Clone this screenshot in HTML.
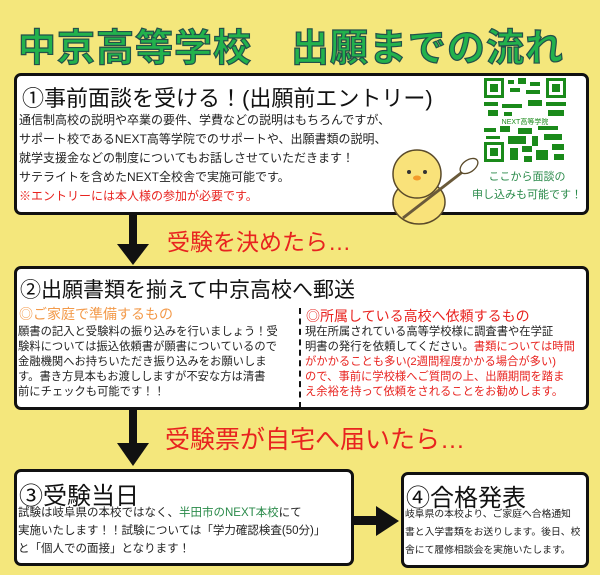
<!DOCTYPE html>
<html><head><meta charset="utf-8"><style>
*{margin:0;padding:0;box-sizing:border-box}
body{width:600px;height:575px;background:#f4e77c;position:relative;overflow:hidden;font-family:"Liberation Sans","Noto Sans CJK JP",sans-serif;color:#222}
.abs{position:absolute}
.box{position:absolute;background:#fff;border:3px solid #111;border-radius:7px}
.title{left:18px;top:17px;font-size:38px;font-weight:bold;color:#22b24c;-webkit-text-stroke:1.2px #23504a;letter-spacing:1px;white-space:nowrap}
.h{position:absolute;white-space:nowrap;color:#111}
.t{position:absolute;white-space:nowrap;font-size:12.5px;line-height:19px}
.r{color:#e8231f}
.red{color:#e8231f;position:absolute;white-space:nowrap}
</style></head><body>
<div class="abs title">中京高等学校　出願までの流れ</div>

<!-- box1 -->
<div class="box" style="left:14px;top:73px;width:575px;height:142px"></div>
<div class="h" style="left:22px;top:81px;font-size:22px">①事前面談を受ける！(出願前エントリー)</div>
<div class="t" style="left:19px;top:111px;font-size:12px">通信制高校の説明や卒業の要件、学費などの説明はもちろんですが、<br>サポート校であるNEXT高等学院でのサポートや、出願書類の説明、<br>就学支援金などの制度についてもお話しさせていただきます！<br>サテライトを含めたNEXT全校舎で実施可能です。<br><span class="r">※エントリーには本人様の参加が必要です。</span></div>
<svg class="abs" style="left:484px;top:78px" width="82" height="84" viewBox="0 0 82 84">
<g fill="#1a8a1a">
<rect x="0" y="0" width="20" height="20"/><rect x="62" y="0" width="20" height="20"/><rect x="0" y="64" width="20" height="20"/>
</g><g fill="#fff"><rect x="3" y="3" width="14" height="14"/><rect x="65" y="3" width="14" height="14"/><rect x="3" y="67" width="14" height="14"/></g>
<g fill="#1a8a1a"><rect x="6" y="6" width="8" height="8"/><rect x="68" y="6" width="8" height="8"/><rect x="6" y="70" width="8" height="8"/>
<rect x="24" y="2" width="6" height="4"/><rect x="34" y="0" width="8" height="6"/><rect x="46" y="4" width="10" height="4"/><rect x="26" y="10" width="10" height="4"/><rect x="42" y="12" width="14" height="4"/>
<rect x="0" y="24" width="14" height="4"/><rect x="18" y="26" width="20" height="4"/><rect x="44" y="22" width="14" height="6"/><rect x="62" y="24" width="20" height="4"/>
<rect x="4" y="32" width="10" height="6"/><rect x="20" y="34" width="8" height="4"/><rect x="64" y="32" width="16" height="6"/>
<rect x="0" y="50" width="12" height="4"/><rect x="16" y="48" width="10" height="6"/><rect x="34" y="50" width="14" height="6"/><rect x="54" y="48" width="20" height="4"/>
<rect x="2" y="58" width="14" height="3"/><rect x="24" y="58" width="18" height="8"/><rect x="48" y="58" width="6" height="10"/><rect x="60" y="56" width="18" height="6"/>
<rect x="26" y="70" width="8" height="12"/><rect x="38" y="68" width="10" height="6"/><rect x="52" y="72" width="12" height="10"/><rect x="68" y="66" width="12" height="6"/><rect x="40" y="78" width="8" height="6"/><rect x="70" y="76" width="10" height="6"/>
</g>
<rect x="16" y="39" width="50" height="9" fill="#fff"/>
<text x="41" y="46" font-size="7" fill="#1a8a1a" text-anchor="middle" font-family="Liberation Sans,Noto Sans CJK JP,sans-serif">NEXT高等学院</text>
</svg>
<div class="t" style="top:168px;font-size:11px;line-height:18px;color:#2a8a4a;text-align:center;width:110px;left:472px">ここから面談の<br>申し込みも可能です！</div>
<!-- chick -->
<svg class="abs" style="left:383px;top:140px" width="100" height="88" viewBox="0 0 100 88">
<ellipse cx="36" cy="62" rx="26" ry="22" fill="#f9e27a" stroke="#5a4a2a" stroke-width="1.5"/>
<circle cx="34" cy="34" r="24" fill="#f9e27a" stroke="#5a4a2a" stroke-width="1.5"/>
<circle cx="26" cy="32" r="2" fill="#333"/><circle cx="42" cy="32" r="2" fill="#333"/>
<ellipse cx="34" cy="38" rx="4" ry="2.5" fill="#f39a2a"/>
<line x1="20" y1="78" x2="82" y2="30" stroke="#6a5a3a" stroke-width="3"/>
<ellipse cx="86" cy="26" rx="10" ry="6" fill="#fff" stroke="#5a4a2a" stroke-width="1.3" transform="rotate(-35 86 26)"/>
</svg>

<!-- arrow1 -->
<div class="abs" style="left:129px;top:214px;width:8px;height:34px;background:#111"></div>
<svg class="abs" style="left:117px;top:244px" width="32" height="22"><polygon points="0,0 32,0 16,21" fill="#111"/></svg>
<div class="red" style="left:167px;top:223px;font-size:23px">受験を決めたら…</div>

<!-- box2 -->
<div class="box" style="left:14px;top:266px;width:575px;height:144px"></div>
<div class="h" style="left:20px;top:274px;font-size:21px">②出願書類を揃えて中京高校へ郵送</div>
<div class="abs" style="left:299px;top:308px;height:100px;border-left:2px dashed #111"></div>
<div class="h" style="left:19px;top:304px;font-size:14px;color:#f39a4a">◎ご家庭で準備するもの</div>
<div class="h" style="left:306px;top:306px;font-size:14px;color:#e8231f">◎所属している高校へ依頼するもの</div>
<div class="t" style="left:18px;top:325px;font-size:11.3px;line-height:15px">願書の記入と受験料の振り込みを行いましょう！受<br>験料については振込依頼書が願書についているので<br>金融機関へお持ちいただき振り込みをお願いしま<br>す。書き方見本もお渡ししますが不安な方は清書<br>前にチェックも可能です！！</div>
<div class="t" style="left:305px;top:325px;font-size:11.3px;line-height:15px">現在所属されている高等学校様に調査書や在学証<br>明書の発行を依頼してください。<span class="r">書類については時間<br>がかかることも多い(2週間程度かかる場合が多い)<br>ので、事前に学校様へご質問の上、出願期間を踏ま<br>え余裕を持って依頼をされることをお勧めします。</span></div>

<!-- arrow2 -->
<div class="abs" style="left:129px;top:409px;width:8px;height:36px;background:#111"></div>
<svg class="abs" style="left:117px;top:443px" width="32" height="24"><polygon points="0,0 32,0 16,23" fill="#111"/></svg>
<div class="red" style="left:165px;top:420px;font-size:25px">受験票が自宅へ届いたら…</div>

<!-- box3 -->
<div class="box" style="left:14px;top:469px;width:340px;height:97px"></div>
<div class="h" style="left:19px;top:476px;font-size:24px">③受験当日</div>
<div class="t" style="left:18px;top:504px;font-size:11.5px;line-height:18px">試験は岐阜県の本校ではなく、<span style="color:#2a8a4a">半田市のNEXT本校</span>にて<br>実施いたします！！試験については「学力確認検査(50分)」<br>と「個人での面接」となります！</div>

<!-- arrow3 -->
<div class="abs" style="left:354px;top:516px;width:24px;height:9px;background:#111"></div>
<svg class="abs" style="left:376px;top:506px" width="24" height="30"><polygon points="0,0 23,15 0,30" fill="#111"/></svg>

<!-- box4 -->
<div class="box" style="left:401px;top:472px;width:188px;height:96px"></div>
<div class="h" style="left:406px;top:478px;font-size:24px">④合格発表</div>
<div class="t" style="left:405px;top:506px;font-size:9.8px;line-height:18px">岐阜県の本校より、ご家庭へ合格通知<br>書と入学書類をお送りします。後日、校<br>舎にて履修相談会を実施いたします。</div>
</body></html>
